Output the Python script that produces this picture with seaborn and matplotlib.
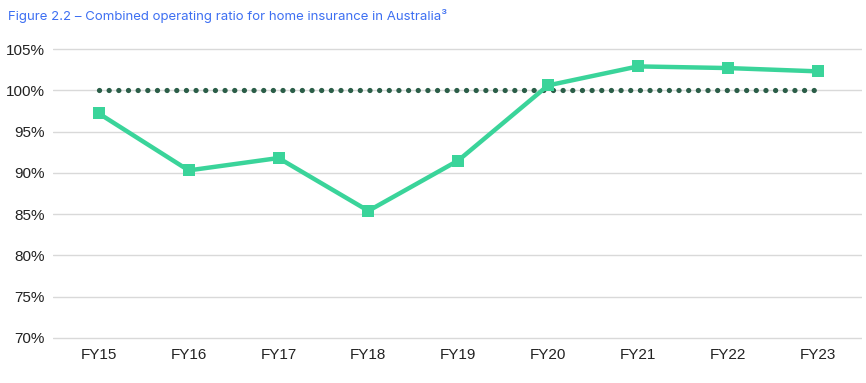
import matplotlib
matplotlib.use("Agg")
import matplotlib.pyplot as plt
import seaborn as sns
import pandas as pd

years = ["FY15", "FY16", "FY17", "FY18", "FY19", "FY20", "FY21", "FY22", "FY23"]
ratio = [97.2, 90.3, 91.8, 85.4, 91.5, 100.6, 102.9, 102.7, 102.3]
breakeven = [100] * len(years)
yticks = [70, 75, 80, 85, 90, 95, 100, 105]

sns.set_theme(style="white")
plt.rcParams['font.family'] = ['Liberation Sans', 'DejaVu Sans']

df = pd.DataFrame({"year": years, "ratio": ratio, "be": breakeven})
df["x"] = range(len(years))

fig = plt.figure(figsize=(8.66, 3.83), dpi=100)
ax = fig.add_axes([0.0612, 0.1132, 0.9338, 0.763])

sns.lineplot(data=df, x="x", y="be", ax=ax, color="#2b5e48", linewidth=3.8,
             linestyle=(0, (0.01, 1.82)), dash_capstyle="round", zorder=3)
sns.lineplot(data=df, x="x", y="ratio", ax=ax, color="#3ad49a", linewidth=3.2,
             marker="s", markersize=8, markeredgewidth=0, zorder=4)

ax.set_xlim(-0.51, 8.49)
ax.set_ylim(69.8, 105.2)
ax.set_yticks(yticks)
ax.set_yticklabels([f"{v}%" for v in yticks], fontsize=11, color="#222222")
ax.set_xticks(df["x"])
ax.set_xticklabels(years, fontsize=11, color="#222222")
ax.yaxis.grid(True, color="#d9d9d9", linewidth=1)
ax.set_axisbelow(True)
for s in ax.spines.values():
    s.set_visible(False)
ax.tick_params(axis="both", length=0, pad=6)
ax.set_xlabel("")
ax.set_ylabel("")

fig.text(0.009, 0.958, "Figure 2.2 \u2013 Combined operating ratio for home insurance in Australia\u00b3",
         color="#3d6ff2", fontsize=9.5, family=["Inter", "DejaVu Sans"], va="center")

fig.savefig("out.png", dpi=100)
